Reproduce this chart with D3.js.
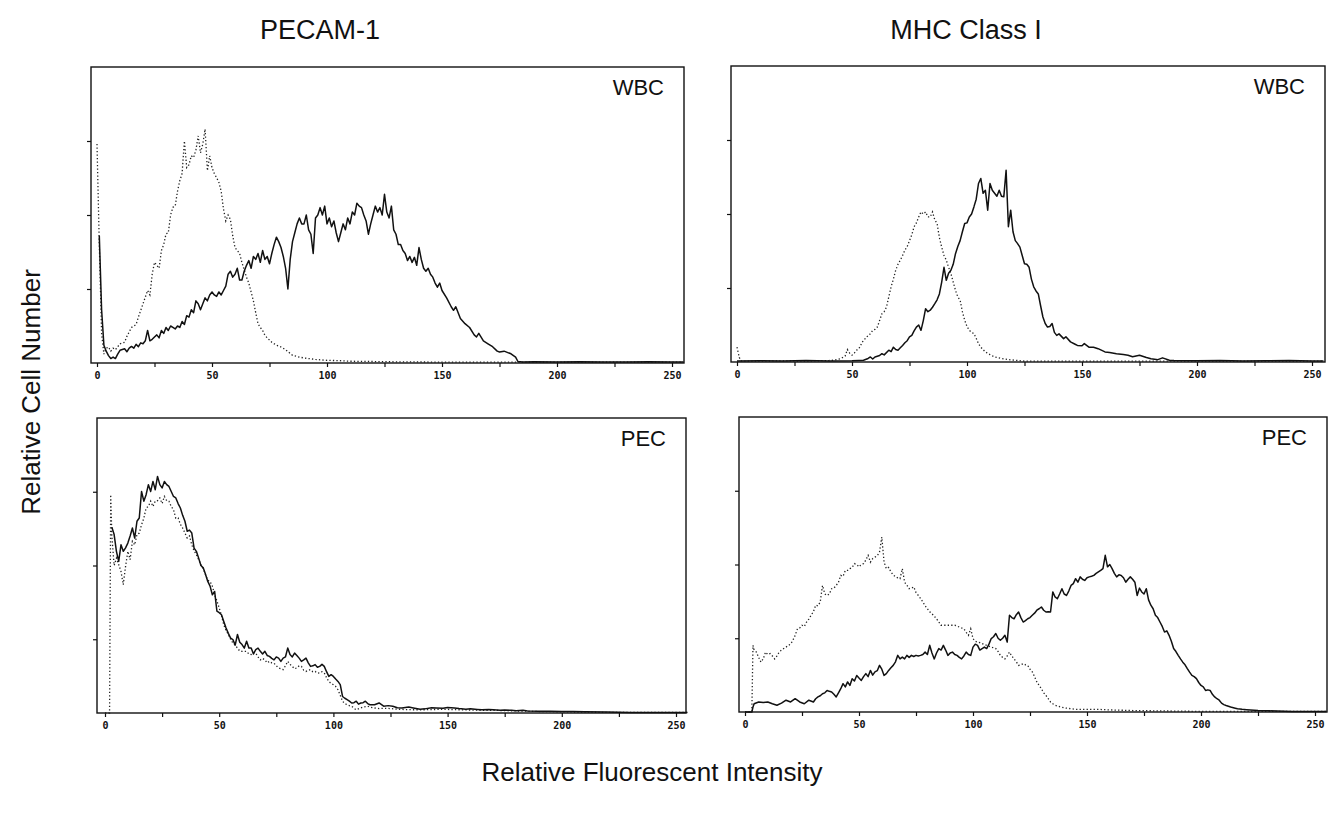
<!DOCTYPE html>
<html>
<head>
<meta charset="utf-8">
<script src="https://cdn.jsdelivr.net/npm/d3@7"></script>
<style>
  body { margin: 0; background: #fff; }
  svg { display: block; background: #fff; }
</style>
</head>
<body>
<svg width="1334" height="813"></svg>
<script>
// x ticks (channel) and y ticks (% of panel height)
const xTicks = [0, 25, 50, 75, 100, 125, 150, 175, 200, 225, 250];
const yTicks = [25, 50, 75];
const columnTitles = ['PECAM-1', 'MHC Class I'];
const rowLabels = ['WBC', 'PEC'];

// [channel, relative count]
const pecamWbcSolid = [[1,43],[2,18],[3,6],[4,4],[5,2.5],[6,1.5],[7,2],[8,1.5],[9,3],[10,4.3],[12,4.8],[13,3.8],[14,5],[15,5.6],[16,5],[17,6.3],[18,5.5],[19,6.8],[20,6.5],[21,7.5],[22,11],[23,7.5],[24,8],[25,8.8],[26,9.5],[27,8.5],[28,11],[29,10],[30,12],[31,11],[32,12.5],[33,12],[34,11.5],[35,12.5],[36,12],[37,14],[38,13],[39,16],[40,15.5],[41,18],[42,17],[43,21],[44,20],[45,18],[46,20],[47,22],[48,21],[49,23],[50,24],[51,23],[52,22.5],[53,24],[54,23],[55,24.5],[56,26],[57,30],[58,31],[59,29],[60,30],[61,32],[62,28],[63,28],[64,31],[65,33],[66,34.6],[67,32],[68,36],[69,35],[70,37],[71,34],[72,38],[73,35],[74,36],[75,33.5],[76,37],[77,40],[78,42.5],[79,41],[80,39],[81,36],[82,32],[83,25],[84,35],[85,41],[86,44],[87,47],[88,49],[89,47],[90,47],[91,50],[92,45],[93,43.5],[94,37],[95,49],[96,50],[97,52.5],[98,50],[99,53],[100,47],[101,49],[102,46],[103,48],[104,44],[105,41],[106,44],[107,47],[108,45],[109,49],[110,47],[111,51],[112,50],[113,54],[114,53],[115,52.5],[116,50],[117,48],[118,43.5],[119,47],[120,50],[121,53],[122,51],[123,52.5],[124,50],[125,57],[126,51],[127,49],[128,53],[129,45],[130,43.5],[131,40],[132,40],[133,38],[134,37],[135,34.6],[136,36],[137,34],[138,35.7],[139,33],[140,39],[141,35],[142,32],[143,31],[144,32],[145,30],[146,29],[147,27],[148,25.6],[149,27],[150,24.5],[152,22],[154,19],[155,17.8],[156,19],[158,15],[160,13.3],[162,12],[164,9.5],[165,8.8],[166,10],[168,7.5],[170,6.5],[172,5.5],[174,4],[175,3.7],[177,4],[180,3.1],[182,2],[183,0.5],[185,0.3],[190,0.4],[200,0.3],[210,0.4],[220,0.3],[230,0.3],[240,0.4],[250,0.3],[255,0.3]];
const pecamWbcIso = [[0,74],[1,40],[2,10],[3,3],[4,5],[5,5.4],[6,4],[7,5],[8,4.5],[10,6.5],[12,7],[13,9],[15,12],[17,13],[18,15.5],[20,20],[22,24.5],[23,23],[24,30],[25,34],[26,33],[27,32],[28,38],[29,40],[30,43.6],[31,44],[32,50],[33,52.6],[34,53],[35,58],[36,61.6],[37,64],[38,75],[39,66],[40,67],[41,70],[42,69.4],[43,72],[44,76.7],[45,71],[46,74],[47,79],[48,65],[49,70],[50,66],[51,64],[52,62.6],[53,61],[54,58],[55,52],[56,48],[57,50],[58,48.5],[59,43],[60,39],[61,38],[62,37],[63,34],[64,31.5],[65,29],[66,27],[67,24],[68,21],[69,17],[70,13.3],[71,12],[72,11],[73,9.4],[74,8.5],[76,7],[78,6],[80,5.4],[82,4.5],[85,2.6],[88,2],[90,1.7],[95,1.2],[100,0.9],[105,0.8],[110,0.6],[120,0.5],[130,0.4],[150,0.3],[200,0.3],[255,0.3]];

const mhcWbcSolid = [[0,0.3],[10,0.4],[20,0.3],[30,0.5],[40,0.3],[50,0.4],[53,0.5],[55,0.6],[57,1.2],[58,1.7],[59,1],[60,1.7],[62,2.2],[63,2.8],[64,2.4],[66,4],[67,3.5],[68,5],[69,4.2],[70,4],[71,4.8],[72,5.6],[73,6.5],[74,7.2],[75,8.5],[76,9],[77,10.5],[78,11.8],[79,12.5],[80,10.7],[81,14],[82,18],[83,17],[84,17.5],[85,18.5],[86,19.7],[87,21],[88,23],[89,27],[90,32],[91,27.6],[92,30],[93,31],[94,33],[95,36.6],[96,39],[97,41],[98,44],[99,46.8],[100,47],[101,49],[102,50],[103,52.4],[104,55],[105,60.3],[106,62],[107,57],[108,58],[109,51.3],[110,60.3],[111,58],[112,57],[113,56],[114,58],[115,56],[116,55.8],[117,64.8],[118,45.7],[119,51.3],[120,44],[121,41],[122,40],[123,38.8],[124,36],[125,33.2],[126,33],[127,32],[128,28],[129,25.4],[130,24],[131,23],[132,19],[133,15.2],[134,13],[135,11.8],[136,12],[137,13],[138,10],[139,9],[140,9.5],[142,7.9],[143,8.5],[145,6.8],[147,6],[148,5.6],[150,5.5],[151,6.2],[153,5],[155,5],[157,4.5],[160,3.4],[162,3.2],[165,2.8],[168,2.5],[170,2.3],[172,1.8],[175,2.3],[178,1.5],[180,1.1],[183,0.8],[185,1.4],[188,0.6],[190,0.5],[200,0.4],[210,0.5],[220,0.3],[230,0.4],[240,0.5],[250,0.3],[255,0.3]];
const mhcWbcIso = [[0,5],[1,1.5],[2,0.3],[10,0.3],[20,0.4],[30,0.3],[40,0.5],[42,0.6],[45,1.1],[47,2],[48,4.2],[49,3],[50,2.3],[51,3],[52,4],[53,4.5],[54,6],[55,7.4],[56,8],[57,9],[58,9.5],[59,10.7],[60,11],[61,11.8],[62,14],[63,16.3],[64,17],[65,18.6],[66,22],[67,25.4],[68,28],[69,31],[70,33],[71,34.4],[72,36],[73,37.8],[74,39],[75,41],[76,43],[77,45.7],[78,47],[79,49],[80,50.7],[81,50],[82,50.7],[83,49],[84,49],[85,50.7],[86,48],[87,46.8],[88,42],[89,38.8],[90,36],[91,34.4],[92,32],[93,29.9],[94,27],[95,24.2],[96,22],[97,20.9],[98,17],[99,14.1],[100,12],[101,10.7],[102,10],[103,9.6],[104,8],[105,6.2],[106,5],[108,3.4],[110,2.5],[112,1.7],[115,1.2],[118,0.8],[125,0.3],[255,0.3]];

const pecamPecSolid = [[3,63],[4,60.5],[5,54.8],[6,51.4],[7,57],[8,54.8],[9,56],[10,57.6],[11,60],[12,62.7],[13,59.3],[14,65],[15,66.1],[16,75.1],[17,71.8],[18,74],[19,77.4],[20,75.1],[21,78.5],[22,75.7],[23,80.2],[24,77.4],[25,76.3],[26,78.5],[27,77.4],[28,76.8],[29,75.1],[30,73.4],[31,72.9],[32,71],[33,69.5],[34,67],[35,65],[36,61.6],[37,62],[38,61],[39,55.9],[40,54.8],[41,52.5],[42,50],[43,49.2],[44,47],[45,44.6],[46,43],[47,40.1],[48,41.2],[49,34.5],[50,34],[51,33.3],[52,31],[53,28.8],[54,27],[55,25.4],[56,24.9],[57,23],[58,26.6],[59,24],[60,23.2],[61,22],[62,24.3],[63,22],[64,22],[65,20],[66,21.5],[67,22],[68,20.9],[69,20],[70,20.9],[71,19.5],[72,19.2],[73,18.5],[74,18],[75,19],[76,18.6],[77,17.5],[78,18.6],[79,19],[80,22],[81,19.8],[82,19],[83,20.3],[84,19.5],[85,18.6],[86,17.5],[87,18],[88,18.6],[89,17],[90,15.8],[91,16],[92,16.4],[93,15.5],[94,15.8],[95,16.5],[96,15.8],[97,14],[98,12.4],[99,13],[100,12.4],[101,11.5],[102,10.7],[103,9.6],[104,5.6],[105,5],[106,4.5],[107,4],[108,3.4],[109,3.5],[110,4],[111,3],[112,3.4],[113,3.5],[114,4],[115,3.2],[116,2.8],[118,2.8],[120,3.4],[122,2.3],[124,2.5],[126,2.3],[128,1.8],[130,1.7],[133,2],[135,1.7],[138,1.3],[140,1.4],[143,1.8],[145,1.7],[148,1.6],[150,1.9],[153,1.7],[155,1.5],[158,1.3],[160,1.4],[163,1.2],[165,1.1],[168,1.2],[170,1.1],[173,0.9],[175,1],[178,0.9],[180,0.8],[183,0.9],[185,0.7],[190,0.6],[195,0.6],[200,0.5],[205,0.5],[210,0.4],[220,0.3],[230,0.2],[255,0.2]];
const pecamPecIso = [[0,0],[2,0],[2.5,74],[3,60],[4,50],[5,52.5],[6,50.3],[7,48],[8,43.5],[9,49.7],[10,54.8],[11,52],[12,58.2],[13,57],[14,60.5],[15,61],[16,63.8],[17,66],[18,69.5],[19,70],[20,71.8],[21,70],[22,71.8],[23,72],[24,72.9],[25,71],[26,73.4],[27,72],[28,71.8],[29,70],[30,68.9],[31,66],[32,66.1],[33,64],[34,62.7],[35,61],[36,59.3],[37,60],[38,57],[39,55],[40,53.7],[41,52],[42,50.3],[43,49],[44,46.9],[45,45],[46,44.6],[47,43],[48,40.1],[49,38],[50,35.6],[51,33],[52,29.9],[53,28],[54,26.6],[55,25],[56,23.7],[57,23],[58,22],[59,21],[60,20.9],[62,20.9],[63,20],[64,19.8],[65,20.5],[66,20.3],[67,19],[68,18],[69,18.5],[70,18],[71,17],[72,17.5],[73,17],[74,16.9],[75,16],[76,15.3],[77,15],[78,14.7],[79,16],[80,17.5],[81,16.5],[82,15.8],[83,15],[84,15.3],[85,16],[86,15.8],[87,14.5],[88,14.1],[89,14.5],[90,14.7],[91,14],[92,14.1],[93,13.5],[94,13.6],[95,14],[96,13.6],[97,12],[98,10.7],[99,10],[100,9.6],[101,9],[102,7.9],[103,6],[104,4],[105,3.2],[106,2.8],[107,2.5],[108,2.3],[109,1.6],[110,1.1],[112,1.7],[113,2],[115,2.3],[116,2],[118,1.7],[120,1.5],[123,1.6],[125,1.5],[128,1.3],[130,1.2],[135,1.1],[140,1.1],[145,1.2],[150,1.2],[155,1.1],[160,1],[165,0.9],[170,0.9],[180,0.7],[190,0.5],[200,0.4],[210,0.3],[220,0.2],[255,0.2]];

const mhcPecSolid = [[0,0],[3,0],[3.5,1.7],[4,2.8],[6,3.4],[8,3.2],[10,3.4],[12,2.8],[14,2.3],[16,3],[18,4],[20,3.4],[22,4.5],[24,3.4],[26,2.8],[28,4],[30,3.4],[31,4.5],[32,5.1],[33,5.5],[34,6.2],[35,6.5],[36,7.3],[37,7],[38,6.8],[39,6],[40,5.1],[41,6.5],[42,7.9],[43,9.6],[44,8.5],[45,10.2],[46,9],[47,11.3],[48,10.5],[49,12.4],[50,11.5],[51,10.7],[52,12],[53,13],[54,12],[55,14.1],[56,12.5],[57,13.6],[58,14],[59,15.8],[60,14.5],[61,12.4],[62,13],[63,14.1],[64,15],[65,15.8],[66,17],[67,19.2],[68,18],[69,18.6],[70,18],[71,19.2],[72,18.5],[73,19.2],[74,18.8],[75,19.2],[76,19],[77,19.2],[78,19.5],[79,20.3],[80,19.5],[81,22.6],[82,20],[83,18],[84,20],[85,21.5],[86,21],[87,22.6],[88,21],[89,19.2],[90,20],[91,20.3],[92,19.5],[93,19.2],[94,18.5],[95,18],[96,19],[97,20.3],[98,19.5],[99,19.2],[100,22],[101,23],[102,22.6],[103,21],[104,21.5],[105,22],[106,21.5],[107,23],[108,24.9],[109,25.5],[110,26.6],[111,25],[112,24.3],[113,25],[114,26],[115,23.7],[116,32.8],[117,32],[118,31.6],[119,33],[120,33.9],[121,32],[122,30.5],[123,31],[124,31.6],[125,32],[126,32.8],[127,33.5],[128,34.5],[129,35],[130,35.6],[131,34.5],[132,33.9],[133,34],[134,33.9],[135,40.7],[136,39],[137,38.4],[138,40],[139,41.8],[140,40],[141,39.5],[142,41],[143,42.9],[144,43.5],[145,45.2],[146,44],[147,45.8],[148,45],[149,44.6],[150,45.5],[151,45.8],[152,46],[153,46.3],[154,47],[155,47.5],[156,48],[157,48.6],[158,53.1],[159,49.2],[160,50],[161,48.6],[162,47],[163,45.8],[164,46.5],[165,46.3],[166,45.5],[167,44],[168,45],[169,45.8],[170,45],[171,44],[172,39.5],[173,42],[174,40.7],[175,40],[176,41.8],[177,38],[178,36.2],[179,35],[180,32.8],[181,32],[182,30.5],[183,29],[184,27.1],[185,27.5],[186,26],[187,24],[188,21.5],[189,20.5],[190,19.2],[191,18],[192,16.9],[193,16],[194,14.7],[195,13.5],[196,12.4],[197,12],[198,11.3],[199,10],[200,9],[201,8.5],[202,7.3],[203,7.5],[204,7.3],[205,6],[206,5.1],[207,4.5],[208,4],[209,3],[210,2.5],[211,2.2],[213,1.7],[215,1.3],[216,1.1],[218,0.9],[220,0.8],[225,0.5],[230,0.4],[240,0.2],[255,0.2]];
const mhcPecIso = [[0,0],[3,0],[3.5,22.6],[4,21],[5,20.3],[6,18.5],[7,16.9],[8,18],[9,20.3],[10,19.5],[11,19.8],[12,19],[13,18],[14,19],[15,20.3],[16,21],[17,21.5],[18,22],[19,22.6],[20,23],[21,24.3],[22,26],[23,28.2],[24,28.5],[25,29.4],[26,29],[27,30.5],[28,31.5],[29,32.8],[30,34],[31,36.2],[32,36],[33,37.3],[34,42.9],[35,40],[36,39.5],[37,40],[38,41.8],[39,42],[40,42.9],[41,44],[42,46.3],[43,46],[44,48],[45,48],[46,48.6],[47,49],[48,50.3],[49,50],[50,49.2],[51,50],[52,50.3],[53,51.5],[54,53.1],[55,50.8],[56,52],[57,52.5],[58,53],[59,54.2],[60,59.3],[61,50.8],[62,48.6],[63,49],[64,47.5],[65,46.5],[66,45.8],[67,45.5],[68,45.2],[69,48.6],[70,44],[71,43],[72,41.8],[73,42],[74,42.4],[75,40.5],[76,39.5],[77,38.5],[78,37.3],[79,36],[80,35],[81,34],[82,33.3],[83,32.5],[84,31.6],[85,30.5],[86,29.4],[88,29.4],[90,29.4],[92,29.4],[94,28.8],[96,28.2],[97,27],[98,26],[99,28.2],[100,24.9],[101,24],[102,23.7],[103,23.5],[104,23.2],[106,22.6],[108,22],[110,21.5],[111,20.5],[112,19.2],[113,18.5],[114,18],[115,19],[116,20.3],[117,19],[118,18],[119,17],[120,15.8],[121,16],[122,16.4],[123,16],[124,15.8],[125,14.5],[126,13.6],[127,12],[128,10.2],[129,9],[130,7.9],[131,6.5],[132,5.6],[133,4.5],[134,3.4],[135,2.8],[136,2.3],[138,1.8],[140,1.4],[143,1.1],[145,0.9],[150,0.9],[155,0.9],[160,0.7],[170,0.5],[180,0.4],[190,0.3],[200,0.2],[255,0.2]];

const svg = d3.select('svg');
const ink = '#111';

// panel boxes: left axis, right border, top, x-axis, pixel of channel 0 and 250; title centre
var panels = [
  {col:0, row:0, left:91, right:684, top:67, bottom:363, x0:97, x250:672, titleX:320, solid:pecamWbcSolid, iso:pecamWbcIso},
  {col:1, row:0, left:731, right:1325, top:66, bottom:362, x0:737, x250:1312, titleX:966, solid:mhcWbcSolid, iso:mhcWbcIso},
  {col:0, row:1, left:97, right:686, top:418, bottom:713, x0:105, x250:676, solid:pecamPecSolid, iso:pecamPecIso},
  {col:1, row:1, left:739, right:1327, top:417, bottom:712, x0:745, x250:1315, solid:mhcPecSolid, iso:mhcPecIso}
];

panels.forEach(p => {
  var x = d3.scaleLinear().domain([0, 250]).range([p.x0, p.x250]);
  var y = d3.scaleLinear().domain([0, 100]).range([p.bottom, p.top]);
  var g = svg.append('g');

  g.append('rect')
    .attr('x', p.left).attr('y', p.top)
    .attr('width', p.right - p.left).attr('height', p.bottom - p.top)
    .attr('fill', 'none').attr('stroke', ink).attr('stroke-width', 1.4);

  var xAxis = g.append('g')
    .attr('transform', 'translate(0,' + p.bottom + ')')
    .call(d3.axisBottom(x).tickValues(xTicks).tickSize(4).tickPadding(5)
      .tickFormat(d => d % 50 == 0 ? d : ''));
  xAxis.select('.domain').remove();
  xAxis.selectAll('line').attr('stroke', ink).attr('stroke-width', 1.2);
  xAxis.selectAll('text')
    .attr('font-family', '"DejaVu Sans Mono", monospace')
    .attr('font-weight', 'bold')
    .attr('font-size', 10)
    .attr('fill', ink);

  var yAxis = g.append('g')
    .attr('transform', 'translate(' + p.left + ',0)')
    .call(d3.axisLeft(y).tickValues(yTicks).tickSize(4).tickFormat(''));
  yAxis.select('.domain').remove();
  yAxis.selectAll('line').attr('stroke', ink).attr('stroke-width', 1.2);

  var line = d3.line().x(d => x(d[0])).y(d => y(d[1]));

  g.append('path')
    .datum(p.iso)
    .attr('d', line)
    .attr('fill', 'none')
    .attr('stroke', '#222')
    .attr('stroke-width', 1.3)
    .attr('stroke-dasharray', '1.3,2.2');

  g.append('path')
    .datum(p.solid)
    .attr('d', line)
    .attr('fill', 'none')
    .attr('stroke', ink)
    .attr('stroke-width', 1.5)
    .attr('stroke-linejoin', 'round');

  g.append('text')
    .attr('x', p.right - 20)
    .attr('y', p.top + 28)
    .attr('text-anchor', 'end')
    .attr('font-family', '"Liberation Sans", Arial, sans-serif')
    .attr('font-size', 22)
    .attr('fill', ink)
    .text(rowLabels[p.row]);

  if (p.row == 0) {
    svg.append('text')
      .attr('x', p.titleX)
      .attr('y', 39)
      .attr('text-anchor', 'middle')
      .attr('font-family', '"Liberation Sans", Arial, sans-serif')
      .attr('font-size', 27)
      .attr('fill', ink)
      .text(columnTitles[p.col]);
  }
});

svg.append('text')
  .attr('transform', 'translate(40,392) rotate(-90)')
  .attr('text-anchor', 'middle')
  .attr('font-family', '"Liberation Sans", Arial, sans-serif')
  .attr('font-size', 26)
  .attr('fill', ink)
  .text('Relative Cell Number');

svg.append('text')
  .attr('x', 652)
  .attr('y', 781)
  .attr('text-anchor', 'middle')
  .attr('font-family', '"Liberation Sans", Arial, sans-serif')
  .attr('font-size', 26)
  .attr('fill', ink)
  .text('Relative Fluorescent Intensity');
</script>
</body>
</html>
